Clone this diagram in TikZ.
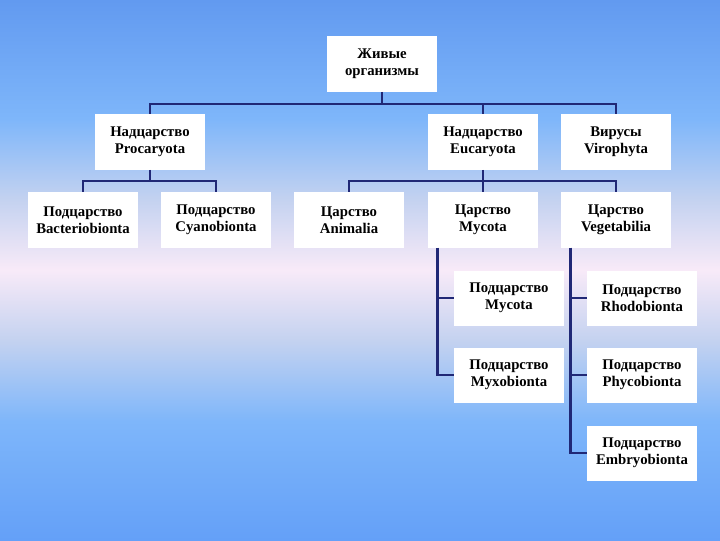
\documentclass[tikz,border=0pt]{standalone}
\usepackage{fontspec}
\setmainfont{Liberation Serif}
\usepackage{tikz}

\definecolor{linknavy}{RGB}{32,40,118}
\definecolor{skyedge}{RGB}{100,160,248}
\definecolor{skytop}{RGB}{98,154,240}
\definecolor{skylight}{RGB}{126,182,250}
\definecolor{skyhaze}{RGB}{196,210,240}
\definecolor{skypink}{RGB}{248,234,248}
% the path is mapped onto the band 25bp--75bp
\pgfdeclareverticalshading{skyband}{100bp}{%
  color(0bp)=(skyedge);
  color(25bp)=(skyedge);
  color(36bp)=(skylight);
  color(43.5bp)=(skyhaze);
  color(50bp)=(skypink);
  color(56.5bp)=(skyhaze);
  color(64bp)=(skylight);
  color(75bp)=(skytop);
  color(100bp)=(skytop)}

\begin{document}
\begin{tikzpicture}[x=0.025cm, y=-0.025cm,
    taxon/.style={fill=white, minimum width=2.75cm, minimum height=1.375cm,
      inner sep=1pt, align=center, font=\fontsize{10.5}{12.2}\selectfont\bfseries},
    link/.style={draw=linknavy, line width=1.8pt}]
  \useasboundingbox (0,0) rectangle (720,540);
  \shade[shading=skyband] (0,0) rectangle (720,540);

  % upper levels
  \node[taxon] (root) at (382,64) {Живые\\организмы};
  \node[taxon] (proc) at (150,142) {Надцарство\\Procaryota};
  \node[taxon] (euc)  at (483,142) {Надцарство\\Eucaryota};
  \node[taxon] (vir)  at (616,142) {Вирусы\\Virophyta};

  \node[taxon] (bact) at (83,220)  {Подцарство\\Bacteriobionta};
  \node[taxon] (cyan) at (216,220) {Подцарство\\Cyanobionta};
  \node[taxon] (anim) at (349,220) {Царство\\Animalia};
  \node[taxon] (myc)  at (483,220) {Царство\\Mycota};
  \node[taxon] (veg)  at (616,220) {Царство\\Vegetabilia};

  % subkingdoms
  \node[taxon] (submyc) at (509,298) {Подцарство\\Mycota};
  \node[taxon] (myxo)   at (509,375) {Подцарство\\Myxobionta};
  \node[taxon] (rhodo)  at (642,298) {Подцарство\\Rhodobionta};
  \node[taxon] (phyco)  at (642,375) {Подцарство\\Phycobionta};
  \node[taxon] (embryo) at (642,453) {Подцарство\\Embryobionta};

  % connectors
  \draw[link] (root.south) -- ++(0,12) coordinate (rootbus);
  \foreach \kid in {proc,euc,vir}
    \draw[link] (rootbus) -| (\kid.north);
  \draw[link] (proc.south) -- ++(0,11) coordinate (procbus);
  \foreach \kid in {bact,cyan}
    \draw[link] (procbus) -| (\kid.north);
  \draw[link] (euc.south) -- ++(0,11) coordinate (eucbus);
  \foreach \kid in {anim,myc,veg}
    \draw[link] (eucbus) -| (\kid.north);

  \coordinate (mycstem) at ([xshift=0.25cm]myc.south west);
  \foreach \kid in {submyc,myxo}
    \draw[link] (mycstem) |- (\kid.west);
  \coordinate (vegstem) at ([xshift=0.25cm]veg.south west);
  \foreach \kid in {rhodo,phyco,embryo}
    \draw[link] (vegstem) |- (\kid.west);
\end{tikzpicture}
\end{document}
